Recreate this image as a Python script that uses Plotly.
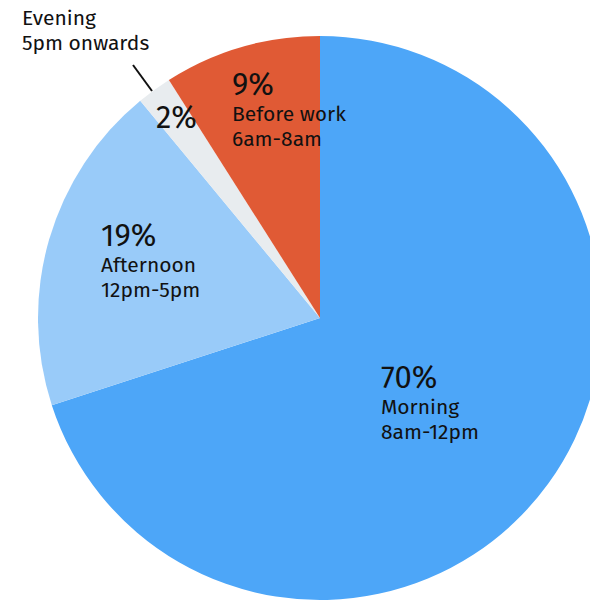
import plotly.graph_objects as go

# ---- data ----
categories = ["Morning", "Afternoon", "Evening", "Before work"]
time_ranges = ["8am-12pm", "12pm-5pm", "5pm onwards", "6am-8am"]
shares = [70, 19, 2, 9]
colors = ["#4da6f8", "#99cbf9", "#e8ecef", "#e05a35"]

# ---- layout helpers (pixel geometry of the page) ----
W, H = 640, 640
FONT = "Fira Sans, Noto Sans, Open Sans, sans-serif"
PCT_SIZE = 31
LBL_SIZE = 21


def px(x):
    return x / W


def py(y):
    return 1 - y / H


fig = go.Figure(
    go.Pie(
        labels=categories,
        values=shares,
        marker=dict(colors=colors, line=dict(width=0)),
        sort=False,
        direction="clockwise",
        rotation=0,
        textinfo="none",
        hoverinfo="label+percent",
        showlegend=False,
        domain=dict(x=[px(38), px(602)], y=[py(600), py(36)]),
    )
)

# label block anchors: (left x, baseline of percentage) in page pixels
blocks = {
    "Morning": (380, 388),
    "Afternoon": (100, 246),
    "Before work": (231, 95),
}

annotations = []


def add_text(text, x, baseline, size):
    annotations.append(
        dict(
            text=text,
            x=px(x),
            y=py(baseline - 0.33 * size),
            xref="paper",
            yref="paper",
            xanchor="left",
            yanchor="middle",
            showarrow=False,
            font=dict(family=FONT, size=size, color="#111111"),
            borderpad=0,
        )
    )


for cat, tr, v in zip(categories, time_ranges, shares):
    if cat in blocks:
        x0, b0 = blocks[cat]
        add_text(f"{v}%", x0, b0, PCT_SIZE)
        add_text(cat, x0, b0 + 26, LBL_SIZE)
        add_text(tr, x0, b0 + 51, LBL_SIZE)
    else:
        # small slice: percentage near the slice, label outside with leader line
        add_text(f"{v}%", 155, 128, PCT_SIZE)
        add_text(cat, 21, 24.5, LBL_SIZE)
        add_text(tr, 21, 49.5, LBL_SIZE)

fig.update_layout(
    width=W,
    height=H,
    margin=dict(l=0, r=0, t=0, b=0),
    paper_bgcolor="white",
    plot_bgcolor="white",
    annotations=annotations,
    shapes=[
        dict(
            type="line",
            xref="paper",
            yref="paper",
            x0=px(133),
            y0=py(65),
            x1=px(152),
            y1=py(91),
            line=dict(color="#111111", width=2),
        )
    ],
)

fig.write_html(
    "out.html",
    config={"displayModeBar": False},
    post_script="document.body.style.margin='0';document.body.style.overflow='hidden';document.documentElement.style.overflow='hidden';",
)
